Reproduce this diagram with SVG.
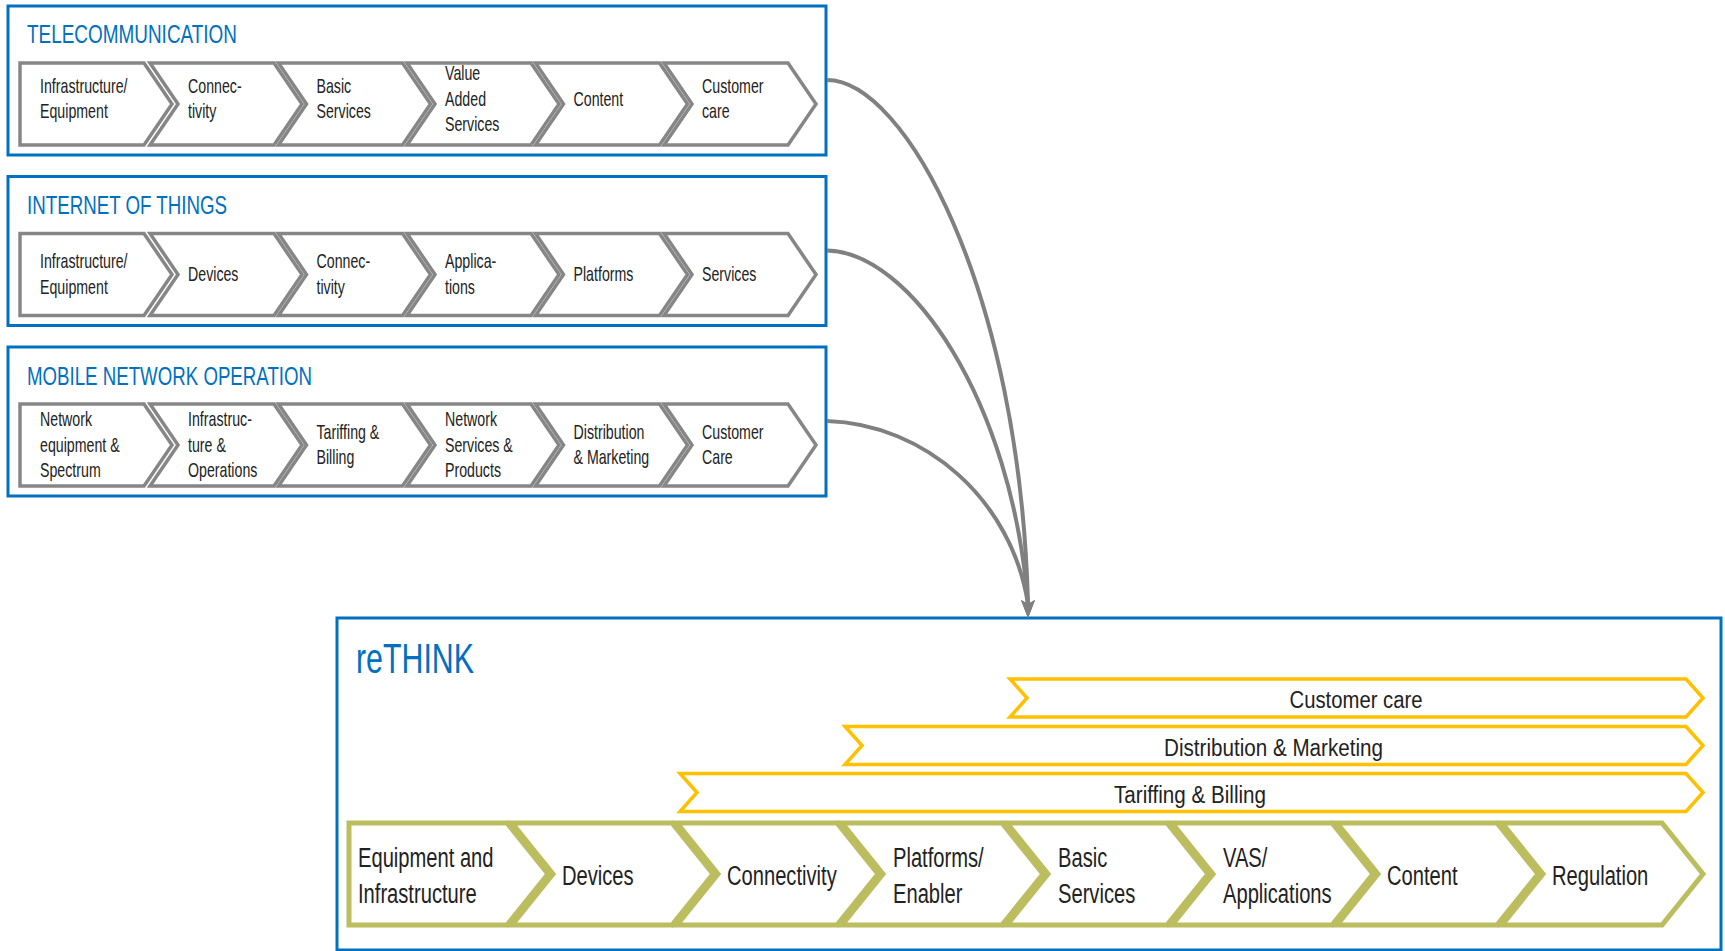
<svg xmlns="http://www.w3.org/2000/svg" xmlns:xlink="http://www.w3.org/1999/xlink" width="1725" height="951" viewBox="0 0 1725 951">
<style>
.box{fill:#fff;stroke:#0070C0;stroke-width:3}
.title{font-family:"Liberation Sans",Arial,sans-serif;fill:#0070C0}
.g{fill:#fff;stroke:#868686;stroke-width:3.5;stroke-linejoin:miter}
.gr{fill:#fff;stroke:#BBBD5F;stroke-width:5;stroke-linejoin:miter}
.y{fill:#fff;stroke:#FFC000;stroke-width:3.5;stroke-linejoin:miter}
.t{font-family:"Liberation Sans",Arial,sans-serif;font-size:20px;fill:#222}
.tb{font-family:"Liberation Sans",Arial,sans-serif;font-size:28px;fill:#222}
.ty{font-family:"Liberation Sans",Arial,sans-serif;font-size:23px;fill:#222;text-anchor:middle}
.conn{fill:none;stroke:#808080;stroke-width:4}
</style>
<defs>
<polygon id="gfirst" points="0,0 124,0 152,41 124,82 0,82"/>
<polygon id="gchev" points="0,0 124,0 152,41 124,82 0,82 28,41"/>
<polygon id="bfirst" points="0,0 158,0 199,51 158,102 0,102"/>
<polygon id="bchev" points="0,0 160,0 201,51 160,102 0,102 41,51"/>
<marker id="arr" markerUnits="userSpaceOnUse" viewBox="0 0 14 18" refX="7" refY="4" markerWidth="14" markerHeight="18" orient="0">
<path d="M0,0 L7,18 L14,0 L7,4 Z" fill="#808080"/>
</marker>
</defs>
<rect width="1725" height="951" fill="#fff"/>

<g id="telecommunication">
<rect class="box" x="8" y="6" width="818" height="149"/>
<text class="title" x="27" y="43" font-size="25" textLength="210" lengthAdjust="spacingAndGlyphs">TELECOMMUNICATION</text>
<use href="#gfirst" class="g" x="20" y="63"/>
<use href="#gchev" class="g" x="150" y="63"/>
<use href="#gchev" class="g" x="278.5" y="63"/>
<use href="#gchev" class="g" x="407" y="63"/>
<use href="#gchev" class="g" x="535.5" y="63"/>
<use href="#gchev" class="g" x="664" y="63"/>
<text class="t" transform="translate(40,0) scale(0.71,1)"><tspan x="0" y="93">Infrastructure/</tspan><tspan x="0" y="118.5">Equipment</tspan></text>
<text class="t" transform="translate(188,0) scale(0.71,1)"><tspan x="0" y="93">Connec-</tspan><tspan x="0" y="118.5">tivity</tspan></text>
<text class="t" transform="translate(316.5,0) scale(0.71,1)"><tspan x="0" y="93">Basic</tspan><tspan x="0" y="118.5">Services</tspan></text>
<text class="t" transform="translate(445,0) scale(0.71,1)"><tspan x="0" y="80.5">Value</tspan><tspan x="0" y="106">Added</tspan><tspan x="0" y="131.5">Services</tspan></text>
<text class="t" transform="translate(573.5,0) scale(0.71,1)"><tspan x="0" y="106">Content</tspan></text>
<text class="t" transform="translate(702,0) scale(0.71,1)"><tspan x="0" y="93">Customer</tspan><tspan x="0" y="118.5">care</tspan></text>
</g>

<g id="internet-of-things">
<rect class="box" x="8" y="176.5" width="818" height="149"/>
<text class="title" x="27" y="213.5" font-size="25" textLength="200" lengthAdjust="spacingAndGlyphs">INTERNET OF THINGS</text>
<use href="#gfirst" class="g" x="20" y="233.5"/>
<use href="#gchev" class="g" x="150" y="233.5"/>
<use href="#gchev" class="g" x="278.5" y="233.5"/>
<use href="#gchev" class="g" x="407" y="233.5"/>
<use href="#gchev" class="g" x="535.5" y="233.5"/>
<use href="#gchev" class="g" x="664" y="233.5"/>
<text class="t" transform="translate(40,0) scale(0.71,1)"><tspan x="0" y="268.5">Infrastructure/</tspan><tspan x="0" y="294">Equipment</tspan></text>
<text class="t" transform="translate(188,0) scale(0.71,1)"><tspan x="0" y="281.5">Devices</tspan></text>
<text class="t" transform="translate(316.5,0) scale(0.71,1)"><tspan x="0" y="268.5">Connec-</tspan><tspan x="0" y="294">tivity</tspan></text>
<text class="t" transform="translate(445,0) scale(0.71,1)"><tspan x="0" y="268.5">Applica-</tspan><tspan x="0" y="294">tions</tspan></text>
<text class="t" transform="translate(573.5,0) scale(0.71,1)"><tspan x="0" y="281.5">Platforms</tspan></text>
<text class="t" transform="translate(702,0) scale(0.71,1)"><tspan x="0" y="281.5">Services</tspan></text>
</g>

<g id="mobile-network-operation">
<rect class="box" x="8" y="347" width="818" height="149"/>
<text class="title" x="27" y="384.5" font-size="25" textLength="285" lengthAdjust="spacingAndGlyphs">MOBILE NETWORK OPERATION</text>
<use href="#gfirst" class="g" x="20" y="404"/>
<use href="#gchev" class="g" x="150" y="404"/>
<use href="#gchev" class="g" x="278.5" y="404"/>
<use href="#gchev" class="g" x="407" y="404"/>
<use href="#gchev" class="g" x="535.5" y="404"/>
<use href="#gchev" class="g" x="664" y="404"/>
<text class="t" transform="translate(40,0) scale(0.71,1)"><tspan x="0" y="426.5">Network</tspan><tspan x="0" y="452">equipment &amp;</tspan><tspan x="0" y="477.5">Spectrum</tspan></text>
<text class="t" transform="translate(188,0) scale(0.71,1)"><tspan x="0" y="426.5">Infrastruc-</tspan><tspan x="0" y="452">ture &amp;</tspan><tspan x="0" y="477.5">Operations</tspan></text>
<text class="t" transform="translate(316.5,0) scale(0.71,1)"><tspan x="0" y="439">Tariffing &amp;</tspan><tspan x="0" y="464.5">Billing</tspan></text>
<text class="t" transform="translate(445,0) scale(0.71,1)"><tspan x="0" y="426.5">Network</tspan><tspan x="0" y="452">Services &amp;</tspan><tspan x="0" y="477.5">Products</tspan></text>
<text class="t" transform="translate(573.5,0) scale(0.71,1)"><tspan x="0" y="439">Distribution</tspan><tspan x="0" y="464.5">&amp; Marketing</tspan></text>
<text class="t" transform="translate(702,0) scale(0.71,1)"><tspan x="0" y="439">Customer</tspan><tspan x="0" y="464.5">Care</tspan></text>
</g>

<g id="rethink">
<rect class="box" x="337" y="618" width="1384" height="332"/>
<text class="title" x="356" y="673" font-size="42" textLength="118" lengthAdjust="spacingAndGlyphs">reTHINK</text>
<polygon class="y" points="1010,679 1686,679 1703,698 1686,717 1010,717 1027,698"/>
<polygon class="y" points="845,726.5 1686,726.5 1703,745.5 1686,764.5 845,764.5 862,745.5"/>
<polygon class="y" points="680,773.5 1686,773.5 1703,792.5 1686,811.5 680,811.5 697,792.5"/>
<text class="ty" x="1356" y="708" textLength="133" lengthAdjust="spacingAndGlyphs">Customer care</text>
<text class="ty" x="1273.5" y="755.5" textLength="219" lengthAdjust="spacingAndGlyphs">Distribution &amp; Marketing</text>
<text class="ty" x="1190" y="802.5" textLength="152" lengthAdjust="spacingAndGlyphs">Tariffing &amp; Billing</text>
<use href="#bfirst" class="gr" x="349" y="823"/>
<use href="#bchev" class="gr" x="512" y="823"/>
<use href="#bchev" class="gr" x="677" y="823"/>
<use href="#bchev" class="gr" x="842" y="823"/>
<use href="#bchev" class="gr" x="1007" y="823"/>
<use href="#bchev" class="gr" x="1172" y="823"/>
<use href="#bchev" class="gr" x="1337" y="823"/>
<use href="#bchev" class="gr" x="1502" y="823"/>
<text class="tb" transform="translate(358,0) scale(0.72,1)"><tspan x="0" y="867">Equipment and</tspan><tspan x="0" y="903">Infrastructure</tspan></text>
<text class="tb" transform="translate(562,0) scale(0.72,1)"><tspan x="0" y="885">Devices</tspan></text>
<text class="tb" transform="translate(727,0) scale(0.72,1)"><tspan x="0" y="885">Connectivity</tspan></text>
<text class="tb" transform="translate(893,0) scale(0.72,1)"><tspan x="0" y="867">Platforms/</tspan><tspan x="0" y="903">Enabler</tspan></text>
<text class="tb" transform="translate(1058,0) scale(0.72,1)"><tspan x="0" y="867">Basic</tspan><tspan x="0" y="903">Services</tspan></text>
<text class="tb" transform="translate(1223,0) scale(0.72,1)"><tspan x="0" y="867">VAS/</tspan><tspan x="0" y="903">Applications</tspan></text>
<text class="tb" transform="translate(1387,0) scale(0.72,1)"><tspan x="0" y="885">Content</tspan></text>
<text class="tb" transform="translate(1552,0) scale(0.72,1)"><tspan x="0" y="885">Regulation</tspan></text>
</g>

<g id="connectors">
<path class="conn" d="M827,80 C905,80 1020,290 1028,604" marker-end="url(#arr)"/>
<path class="conn" d="M827,250.5 C910,252 1012,400 1028,604" marker-end="url(#arr)"/>
<path class="conn" d="M827,421 C925,424 1012,500 1028,604" marker-end="url(#arr)"/>
</g>
</svg>
